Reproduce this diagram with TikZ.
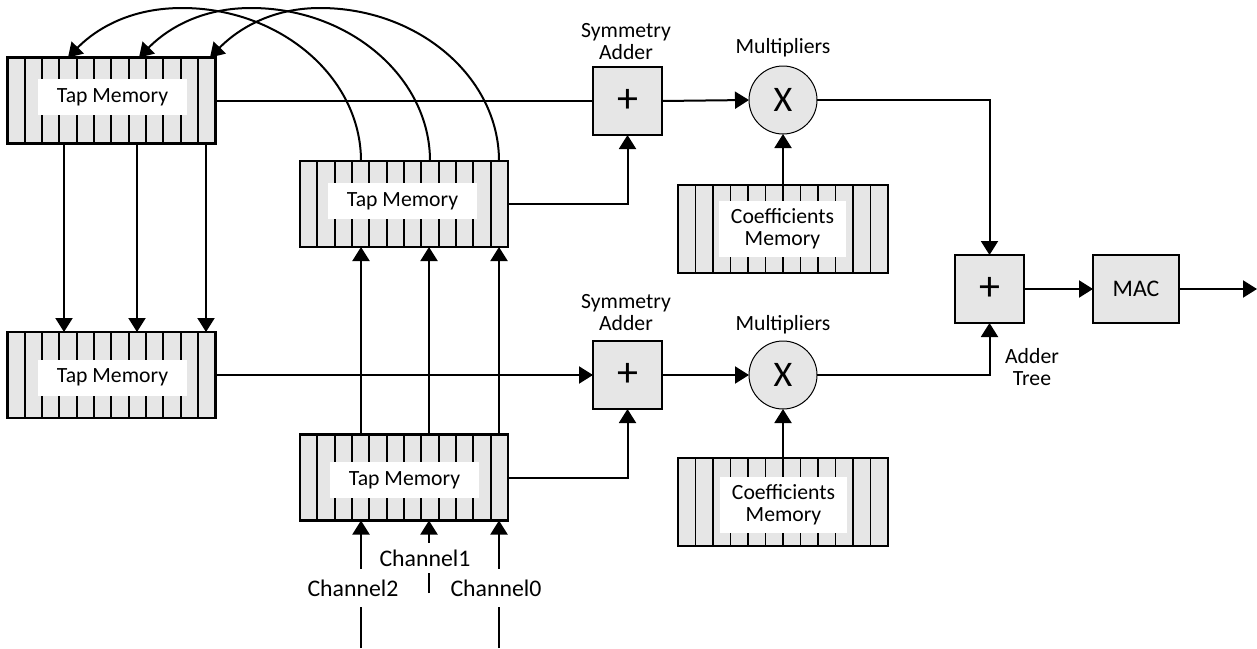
\documentclass[tikz,border=0pt]{standalone}
\usepackage{fontspec}
\setmainfont{Carlito}
\usetikzlibrary{arrows.meta}
\definecolor{memgray}{HTML}{E6E6E6}
\begin{document}
\begin{tikzpicture}[x=1pt,y=-1pt,
  conn/.style={line width=2pt},
  arr/.style={conn,-{Triangle[length=14pt,width=17pt]}},
  cellline/.style={line width=1.9pt},
  mem/.style={draw,line width=2.6pt,fill=memgray,inner sep=0pt,outer sep=0pt,minimum width=208pt,minimum height=86pt},
  coefmem/.style={mem,minimum width=210pt,minimum height=88pt},
  memlabel/.style={fill=white,inner sep=0pt,minimum width=149pt,minimum height=36pt,font=\fontsize{21.7}{22}\selectfont},
  coeflabel/.style={fill=white,inner sep=0pt,minimum width=127pt,minimum height=56pt,align=center,font=\fontsize{21.7}{22}\selectfont},
  opbox/.style={draw,line width=2.4pt,fill=memgray,inner sep=0pt,outer sep=0pt,minimum width=69pt,minimum height=68pt,font=\fontsize{42}{42}\selectfont},
  mult/.style={circle,draw,line width=1pt,fill=memgray,inner sep=0pt,outer sep=0pt,minimum size=68pt,font=\fontsize{36}{36}\selectfont},
  txt/.style={inner sep=0pt,align=center,font=\fontsize{21.7}{22}\selectfont},
  bigtxt/.style={inner sep=0pt,align=center,font=\fontsize{23.8}{24}\selectfont}
]
\useasboundingbox (0,0) rectangle (1257,648);

% memories
\node[mem] (tmA) at (111.25,100.5) {};
\node[mem] (tmB) at (111.25,375) {};
\node[mem] (tmC) at (404,204) {};
\node[mem] (tmD) at (404,477.5) {};
\node[coefmem] (coefA) at (783,229) {};
\node[coefmem] (coefB) at (783,502) {};
\foreach \n/\w in {tmA/208,tmB/208,tmC/208,tmD/208,coefA/210,coefB/210}{
  \foreach \i in {1,...,11}{
    \draw[cellline] ([xshift={\i*\w/12}]\n.north west) -- ([xshift={\i*\w/12}]\n.south west);
  }
}
\node[memlabel] (lA) at (112.5,97) {Tap Memory};
\node[memlabel] (lB) at (112.5,377.5) {Tap Memory};
\node[memlabel] (lC) at (402.5,201) {Tap Memory};
\node[memlabel] (lD) at (404.5,480) {Tap Memory};
\node[coeflabel] (lcA) at (782.5,229) {Coefficients\\Memory};
\node[coeflabel] (lcB) at (783.5,504.5) {Coefficients\\Memory};

% operators
\node[opbox] (addA) at (627.5,101) {+};
\node[opbox] (addB) at (627.5,375) {+};
\node[mult] (mulA) at (783,100) {X};
\node[mult] (mulB) at (783,375) {X};
\node[opbox] (addT) at (989.5,289) {+};
\node[opbox,minimum width=86pt,font=\fontsize{23.8}{24}\selectfont] (mac) at (1136,289) {MAC};
\coordinate (out) at (1257,289);

% labels
\node[txt] (symA) at (626,42) {Symmetry\\Adder};
\node[txt] (symB) at (626,313) {Symmetry\\Adder};
\node[txt] (mlA) at (783,48) {Multipliers};
\node[txt] (mlB) at (783,325) {Multipliers};
\node[txt] (tree) at (1032,367) {Adder\\Tree};

% channel inputs
\node[bigtxt,minimum height=38pt] (ch2) at (353,588) {Channel2};
\node[bigtxt,minimum height=30pt] (ch1) at (425,558) {Channel1};
\node[bigtxt,minimum height=38pt] (ch0) at (496,588) {Channel0};
\coordinate (c2in) at (361,648);
\coordinate (c0in) at (499,648);
\coordinate (c1bar) at (429,593);
\draw[conn] (c2in) -- (c2in |- ch2.south);
\draw[arr] (c2in |- ch2.north) -- (c2in |- tmD.south);
\draw[conn] (c0in) -- (c0in |- ch0.south);
\draw[arr] (c0in |- ch0.north) -- (c0in |- tmD.south);
\draw[conn] (c1bar) -- (c1bar |- ch1.south);
\draw[arr] (c1bar |- ch1.north) -- (c1bar |- tmD.south);

% bottom memory to middle memory
\foreach \o in {61,129,199}{
  \draw[arr] ([xshift=\o]tmD.north west) -- ([xshift=\o]tmC.south west);
}
% top-left to lower-left memory
\foreach \o in {56.75,129.75,198.75}{
  \draw[arr] ([xshift=\o]tmA.south west) -- ([xshift=\o]tmB.north west);
}
% feedback curves
\foreach \s/\e in {361/68,430/139,499/210}{
  \draw[arr] ([xshift={\s-300}]tmC.north west) .. controls (\s,77) and ({\s-81},8) .. ({\s-179},8)
     .. controls ({\e+55},8) and ({\e+22},35) .. ([xshift={\e-7.25}]tmA.north west);
}

% data paths
\draw[conn] (tmA.east) -- (tmA.east -| addA.west);
\draw[arr] (tmB.east) -- (addB.west);
\draw[arr] (tmC.east) -| (addA.south);
\draw[arr] (tmD.east) -| (addB.south);
\draw[arr] (addA.east) -- (mulA.west);
\draw[arr] (addB.east) -- (mulB.west);
\draw[arr] (coefA.north) -- (mulA.south);
\draw[arr] (coefB.north) -- (mulB.south);
\draw[arr] (mulA.east) -| (addT.north);
\draw[arr] (mulB.east) -| (addT.south);
\draw[arr] (addT.east) -- (mac.west);
\draw[arr] (mac.east) -- (out);
\end{tikzpicture}
\end{document}
